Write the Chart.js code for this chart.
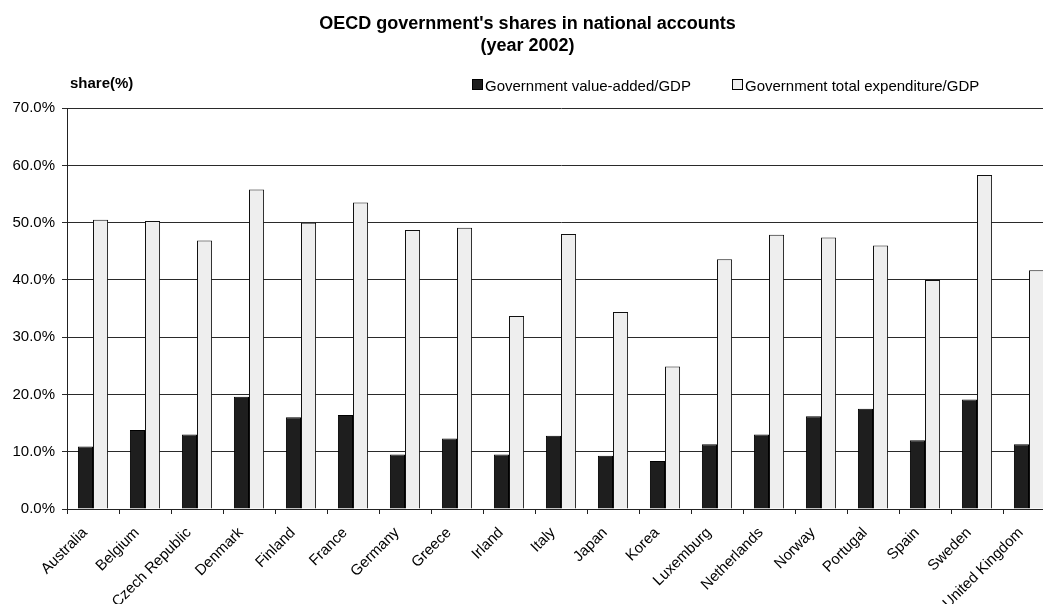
<!DOCTYPE html>
<html>
<head>
<meta charset="utf-8">
<script src="https://cdn.jsdelivr.net/npm/chart.js@4"></script>
<style>
  html, body { margin: 0; padding: 0; background: #fff; overflow: hidden; }
  #wrap { width: 1060px; height: 604px; }
</style>
</head>
<body>
<div id="wrap"><canvas id="Chart"></canvas></div>
<script>
const countries = ['Australia','Belgium','Czech Republic','Denmark','Finland','France','Germany','Greece','Irland','Italy','Japan','Korea','Luxemburg','Netherlands','Norway','Portugal','Spain','Sweden','United Kingdom'];
const valueAdded = [10.9, 13.8, 13.0, 19.6, 16.0, 16.4, 9.5, 12.3, 9.5, 12.8, 9.3, 8.4, 11.3, 13.0, 16.2, 17.5, 12.0, 19.1, 11.3];
const totalExpenditure = [50.5, 50.3, 46.9, 55.8, 50.0, 53.5, 48.7, 49.1, 33.7, 48.0, 34.4, 24.9, 43.6, 47.9, 47.4, 46.0, 40.0, 58.3, 41.7];
const titleLines = ["OECD government's shares in national accounts", '(year 2002)'];
const unitLabel = 'share(%)';

const FONT = 'Arial, "Liberation Sans", sans-serif';

// legend + unit label drawn in the header row
const headerRow = {
  id: 'headerRow',
  afterDraw(chart) {
    const ctx = chart.ctx;
    ctx.save();
    ctx.fillStyle = '#000';
    ctx.textBaseline = 'alphabetic';
    ctx.font = 'bold 15px ' + FONT;
    ctx.fillText(unitLabel, 70, 88);

    ctx.font = '15px ' + FONT;
    const boxX = [472, 732];
    chart.data.datasets.forEach((ds, i) => {
      ctx.fillStyle = ds.backgroundColor;
      ctx.fillRect(boxX[i], 79, 11, 11);
      ctx.strokeStyle = '#000';
      ctx.lineWidth = 1;
      ctx.strokeRect(boxX[i] + 0.5, 79.5, 10, 10);
      ctx.fillStyle = '#000';
      ctx.fillText(ds.label, boxX[i] + 13, 91);
    });
    ctx.restore();
  }
};

const ctx = document.getElementById('Chart').getContext('2d');

new Chart(ctx, {
  type: 'bar',
  data: {
    labels: countries,
    datasets: [{
      label: 'Government value-added/GDP',
      data: valueAdded,
      backgroundColor: '#1e1e1e',
      borderColor: '#000',
      borderWidth: 1
    }, {
      label: 'Government total expenditure/GDP',
      data: totalExpenditure,
      backgroundColor: '#eeeeee',
      borderColor: '#111',
      borderWidth: 1
    }]
  },
  plugins: [headerRow],
  options: {
    responsive: true,
    maintainAspectRatio: false,
    animation: false,
    layout: { padding: { left: 0, right: 5, top: 0, bottom: 0 } },
    datasets: {
      bar: { categoryPercentage: 0.58, barPercentage: 1.0 }
    },
    plugins: {
      legend: { display: false },
      tooltip: { enabled: false },
      title: {
        display: true,
        text: titleLines,
        color: '#000',
        font: { family: FONT, size: 18, weight: 'bold', lineHeight: 1.17 },
        padding: { top: 14, bottom: 52 }
      }
    },
    scales: {
      x: {
        afterFit(scale) { scale.height = 95; },
        border: { display: true, color: '#222', width: 1 },
        grid: { display: true, drawOnChartArea: false, offset: true, tickLength: 5, color: '#222' },
        ticks: {
          color: '#000',
          font: { family: FONT, size: 15 },
          minRotation: 45,
          maxRotation: 45,
          autoSkip: false,
          padding: 10,
          labelOffset: -8
        }
      },
      y: {
        min: 0,
        max: 70,
        afterFit(scale) { scale.width = 67; },
        border: { display: true, color: '#222', width: 1 },
        grid: { color: '#2a2a2a', tickLength: 5 },
        ticks: {
          stepSize: 10,
          color: '#000',
          padding: 7,
          font: { family: FONT, size: 15 },
          callback: v => v.toFixed(1) + '%'
        }
      }
    }
  }
});
</script>
</body>
</html>
